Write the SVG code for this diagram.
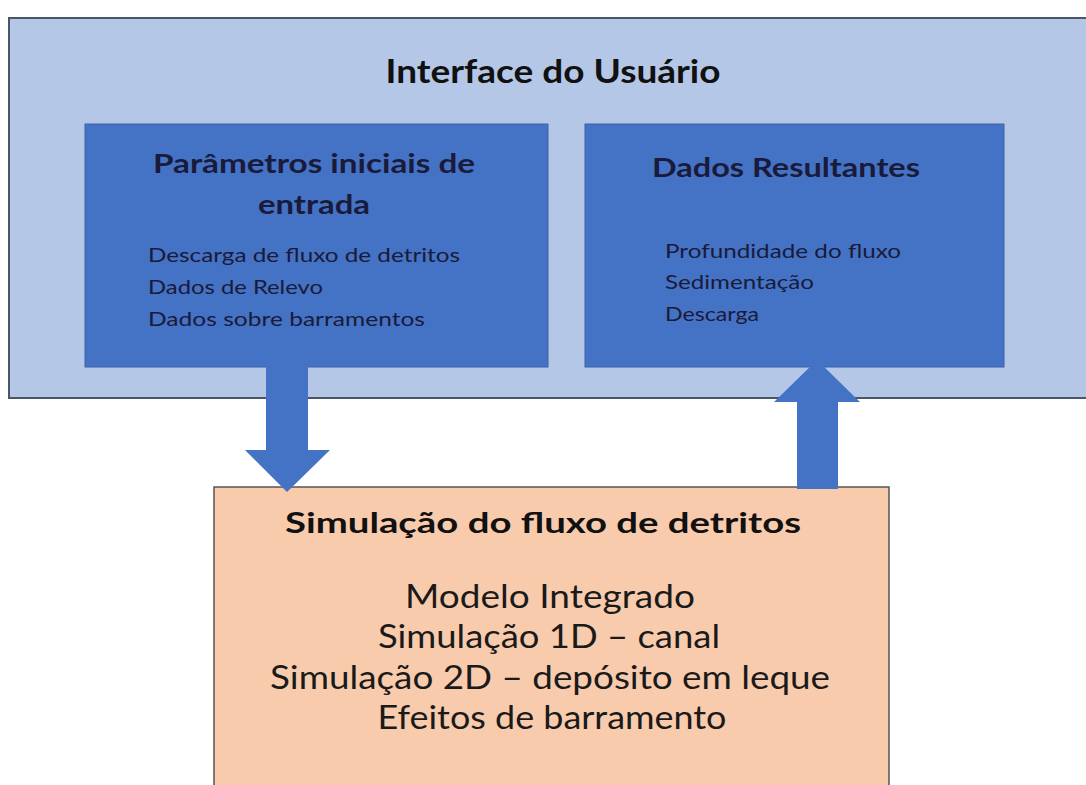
<svg xmlns="http://www.w3.org/2000/svg" width="1086" height="785" viewBox="0 0 1086 785">
<style>
  .outer{fill:#b4c7e7;stroke:#4a5566;stroke-width:2}
  .inner{fill:#4472c4;stroke:#3d63a8;stroke-width:1}
  .sim{fill:#f8cbad;stroke:#555555;stroke-width:1.5}
  .arrow{fill:#4472c4}
  text{font-family:Lato,"Open Sans","Liberation Sans",sans-serif}
  .h{font-weight:bold;fill:#111111;text-anchor:middle}
  .hb{font-weight:bold;fill:#1a1a3a;text-anchor:middle}
  .li{fill:#1a1a3a;font-size:20px}
  .sl{fill:#1a1a1a;font-size:32px;text-anchor:middle}
</style>
<rect width="1086" height="785" fill="#ffffff"/>
<g id="interface">
  <rect class="outer" x="9" y="18" width="1090" height="380"/>
  <text class="h" x="553" y="83" font-size="32" textLength="335" lengthAdjust="spacingAndGlyphs">Interface do Usuário</text>
</g>
<g id="parametros">
  <rect class="inner" x="85" y="124" width="463" height="243"/>
  <text class="hb" x="314" y="173" font-size="27" textLength="322" lengthAdjust="spacingAndGlyphs">Parâmetros iniciais de</text>
  <text class="hb" x="314" y="214" font-size="27" textLength="112" lengthAdjust="spacingAndGlyphs">entrada</text>
  <text class="li" x="148" y="262" textLength="312" lengthAdjust="spacingAndGlyphs">Descarga de fluxo de detritos</text>
  <text class="li" x="148" y="294" textLength="175" lengthAdjust="spacingAndGlyphs">Dados de Relevo</text>
  <text class="li" x="148" y="326" textLength="277" lengthAdjust="spacingAndGlyphs">Dados sobre barramentos</text>
</g>
<g id="resultantes">
  <rect class="inner" x="585" y="124" width="419" height="243"/>
  <text class="hb" x="786" y="177" font-size="27" textLength="268" lengthAdjust="spacingAndGlyphs">Dados Resultantes</text>
  <text class="li" x="665" y="258" textLength="236" lengthAdjust="spacingAndGlyphs">Profundidade do fluxo</text>
  <text class="li" x="665" y="289" textLength="149" lengthAdjust="spacingAndGlyphs">Sedimentação</text>
  <text class="li" x="665" y="321" textLength="94" lengthAdjust="spacingAndGlyphs">Descarga</text>
</g>
<g id="simulacao">
  <rect class="sim" x="214" y="487" width="675" height="310"/>
  <text class="h" x="543" y="533" font-size="29" textLength="516" lengthAdjust="spacingAndGlyphs">Simulação do fluxo de detritos</text>
  <text class="sl" x="550" y="608" textLength="290" lengthAdjust="spacingAndGlyphs">Modelo Integrado</text>
  <text class="sl" x="549" y="648" textLength="342" lengthAdjust="spacingAndGlyphs">Simulação 1D – canal</text>
  <text class="sl" x="550" y="689" textLength="560" lengthAdjust="spacingAndGlyphs">Simulação 2D – depósito em leque</text>
  <text class="sl" x="552" y="729" textLength="349" lengthAdjust="spacingAndGlyphs">Efeitos de barramento</text>
</g>
<g id="connectors">
  <polygon class="arrow" points="266,364 308,364 308,450 330,450 287,492 245,450 266,450"/>
  <polygon class="arrow" points="797,489 838,489 838,402 860,402 817,360 774,402 797,402"/>
</g>
</svg>
